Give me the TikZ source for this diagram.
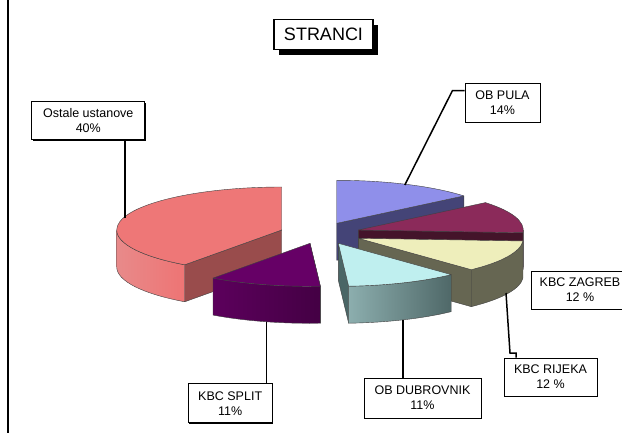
\documentclass[tikz,border=0pt]{standalone}
\usepackage{fontspec}
\setmainfont{Liberation Sans}
\usetikzlibrary{shadows}

\definecolor{osttop}{HTML}{EE7777}
\definecolor{ostsidel}{HTML}{E88A8A}
\definecolor{ostsider}{HTML}{EE7474}
\definecolor{ostcut}{HTML}{994C4C}
\definecolor{splittop}{HTML}{660066}
\definecolor{splitsidel}{HTML}{5C005C}
\definecolor{splitsider}{HTML}{440044}
\definecolor{dubtop}{HTML}{BFEFEF}
\definecolor{dubsidel}{HTML}{8CAEAE}
\definecolor{dubsider}{HTML}{4F6868}
\definecolor{dubcut}{HTML}{4A6666}
\definecolor{rijtop}{HTML}{EEEEBB}
\definecolor{rijside}{HTML}{666652}
\definecolor{zagtop}{HTML}{8B2A5A}
\definecolor{zagcut}{HTML}{44142A}
\definecolor{pulatop}{HTML}{8F8FEA}
\definecolor{pulacut}{HTML}{444477}

% pieces of one slice, drawn round the origin of the current scope
\newcommand{\cutwall}[2]{%
  \draw[#2] (0,0) -- (#1:165 and 43) -- ++(0,-37) -- (0,-37) -- cycle;}
\newcommand{\sidewall}[3]{%
  \draw[#3] (#1:165 and 43)
    arc[start angle=#1, end angle=#2, x radius=165pt, y radius=43pt]
    -- ++(0,-37)
    arc[start angle=#2, end angle=#1, x radius=165pt, y radius=43pt] -- cycle;}
\newcommand{\topface}[3]{%
  \draw[#3] (0,0) -- (#1:165 and 43)
    arc[start angle=#1, end angle=#2, x radius=165pt, y radius=43pt] -- cycle;}

\begin{document}
\begin{tikzpicture} [
    x=1pt, y=1pt,
    thick,
  ]

  \tikzstyle{face} = [
    draw=black!75,
    line width=0.4pt,
    line join=round,
  ]
  \tikzstyle{tag} = [
    draw,
    fill=white,
    line width=0.8pt,
    align=center,
    inner sep=0pt,
    font=\fontsize{12.5}{15}\selectfont,
    drop shadow={shadow xshift=1.2pt, shadow yshift=-1.2pt, opacity=1, fill=black},
  ]
  \tikzstyle{leader} = [
    line width=1.5pt,
  ]

  \clip (0,0) rectangle (622,-434);
  \draw[line width=1.5pt] (8,0) -- (8,-433);

  % right group, back to front
  \begin{scope}[shift={(336.7,-223.3)}]
    \cutwall{39.6}{face, fill=pulacut}
    \topface{39.6}{90}{face, fill=pulatop}
  \end{scope}
  \begin{scope}[shift={(358.3,-230)}]
    \cutwall{356.4}{face, fill=zagcut}
    \sidewall{356.4}{360}{face, fill=zagcut}
    \topface{-3.6}{39.6}{face, fill=zagtop}
  \end{scope}
  \begin{scope}[shift={(358.3,-238.3)}]
    \cutwall{313.2}{face, fill=rijside}
    \sidewall{313.2}{356.4}{face, fill=rijside}
    \topface{313.2}{356.4}{face, fill=rijtop}
  \end{scope}
  \begin{scope}[shift={(338.3,-243.3)}]
    \cutwall{273.6}{face, fill=dubcut}
    \sidewall{273.6}{313.2}{face, left color=dubsidel, right color=dubsider}
    \topface{273.6}{313.2}{face, fill=dubtop}
  \end{scope}

  % left group
  \begin{scope}[shift={(281.7,-230)}]
    \cutwall{234}{face, fill=ostcut}
    \sidewall{180}{234}{face, left color=ostsidel, right color=ostsider}
    \topface{90}{234}{face, fill=osttop}
  \end{scope}
  \begin{scope}[shift={(310,-243.3)}]
    \cutwall{273.6}{face, fill=splitsider}
    \sidewall{234}{273.6}{face, left color=splitsidel, right color=splitsider}
    \topface{234}{273.6}{face, fill=splittop}
  \end{scope}

  \node[draw, fill=white, line width=1.2pt, inner sep=0pt,
        minimum width=99pt, minimum height=30pt,
        font=\fontsize{18}{20}\selectfont,
        drop shadow={shadow xshift=5pt, shadow yshift=-5pt, opacity=1, fill=black}]
                                                  (title)     at (323.5,-34.5) {STRANCI};

  \node[tag, minimum width=113pt, minimum height=38pt] (ostale)    at (88.3,-120.8)  {Ostale ustanove\\40\%};
  \node[tag, minimum width=75pt,  minimum height=39pt] (pula)      at (502.5,-102.5) {OB PULA\\14\%};
  \node[tag, minimum width=98pt,  minimum height=38pt] (zagreb)    at (580,-290)     {KBC ZAGREB\\12 \%};
  \node[tag, minimum width=93pt,  minimum height=38pt] (rijeka)    at (550.5,-377)   {KBC RIJEKA\\12 \%};
  \node[tag, minimum width=117pt, minimum height=40pt] (dubrovnik) at (422.5,-398)   {OB DUBROVNIK\\11\%};
  \node[tag, minimum width=84pt,  minimum height=39pt] (split)     at (230.2,-403.3) {KBC SPLIT\\11\%};

  \coordinate (ostalept)    at (125,-218);
  \coordinate (pulapt)      at (404.8,-185);
  \coordinate (pulak)       at (452.4,-90.7);
  \coordinate (rijekapt)    at (506,-293);
  \coordinate (rijekak)     at (510,-353);
  \coordinate (rijekak2)    at (516,-353);
  \coordinate (dubrovnikpt) at (402.8,-320);
  \coordinate (splitpt)     at (266.7,-322);

  \draw[leader] (ostale.south -| ostalept) -- (ostalept);
  \draw[leader] (pulapt) -- (pulak) -- (pulak -| pula.west);
  \draw[leader] (rijekapt) -- (rijekak) -- (rijekak2) -- (rijekak2 |- rijeka.north);
  \draw[leader] (dubrovnikpt) -- (dubrovnikpt |- dubrovnik.north);
  \draw[leader] (splitpt) -- (splitpt |- split.north);

\end{tikzpicture}
\end{document}
